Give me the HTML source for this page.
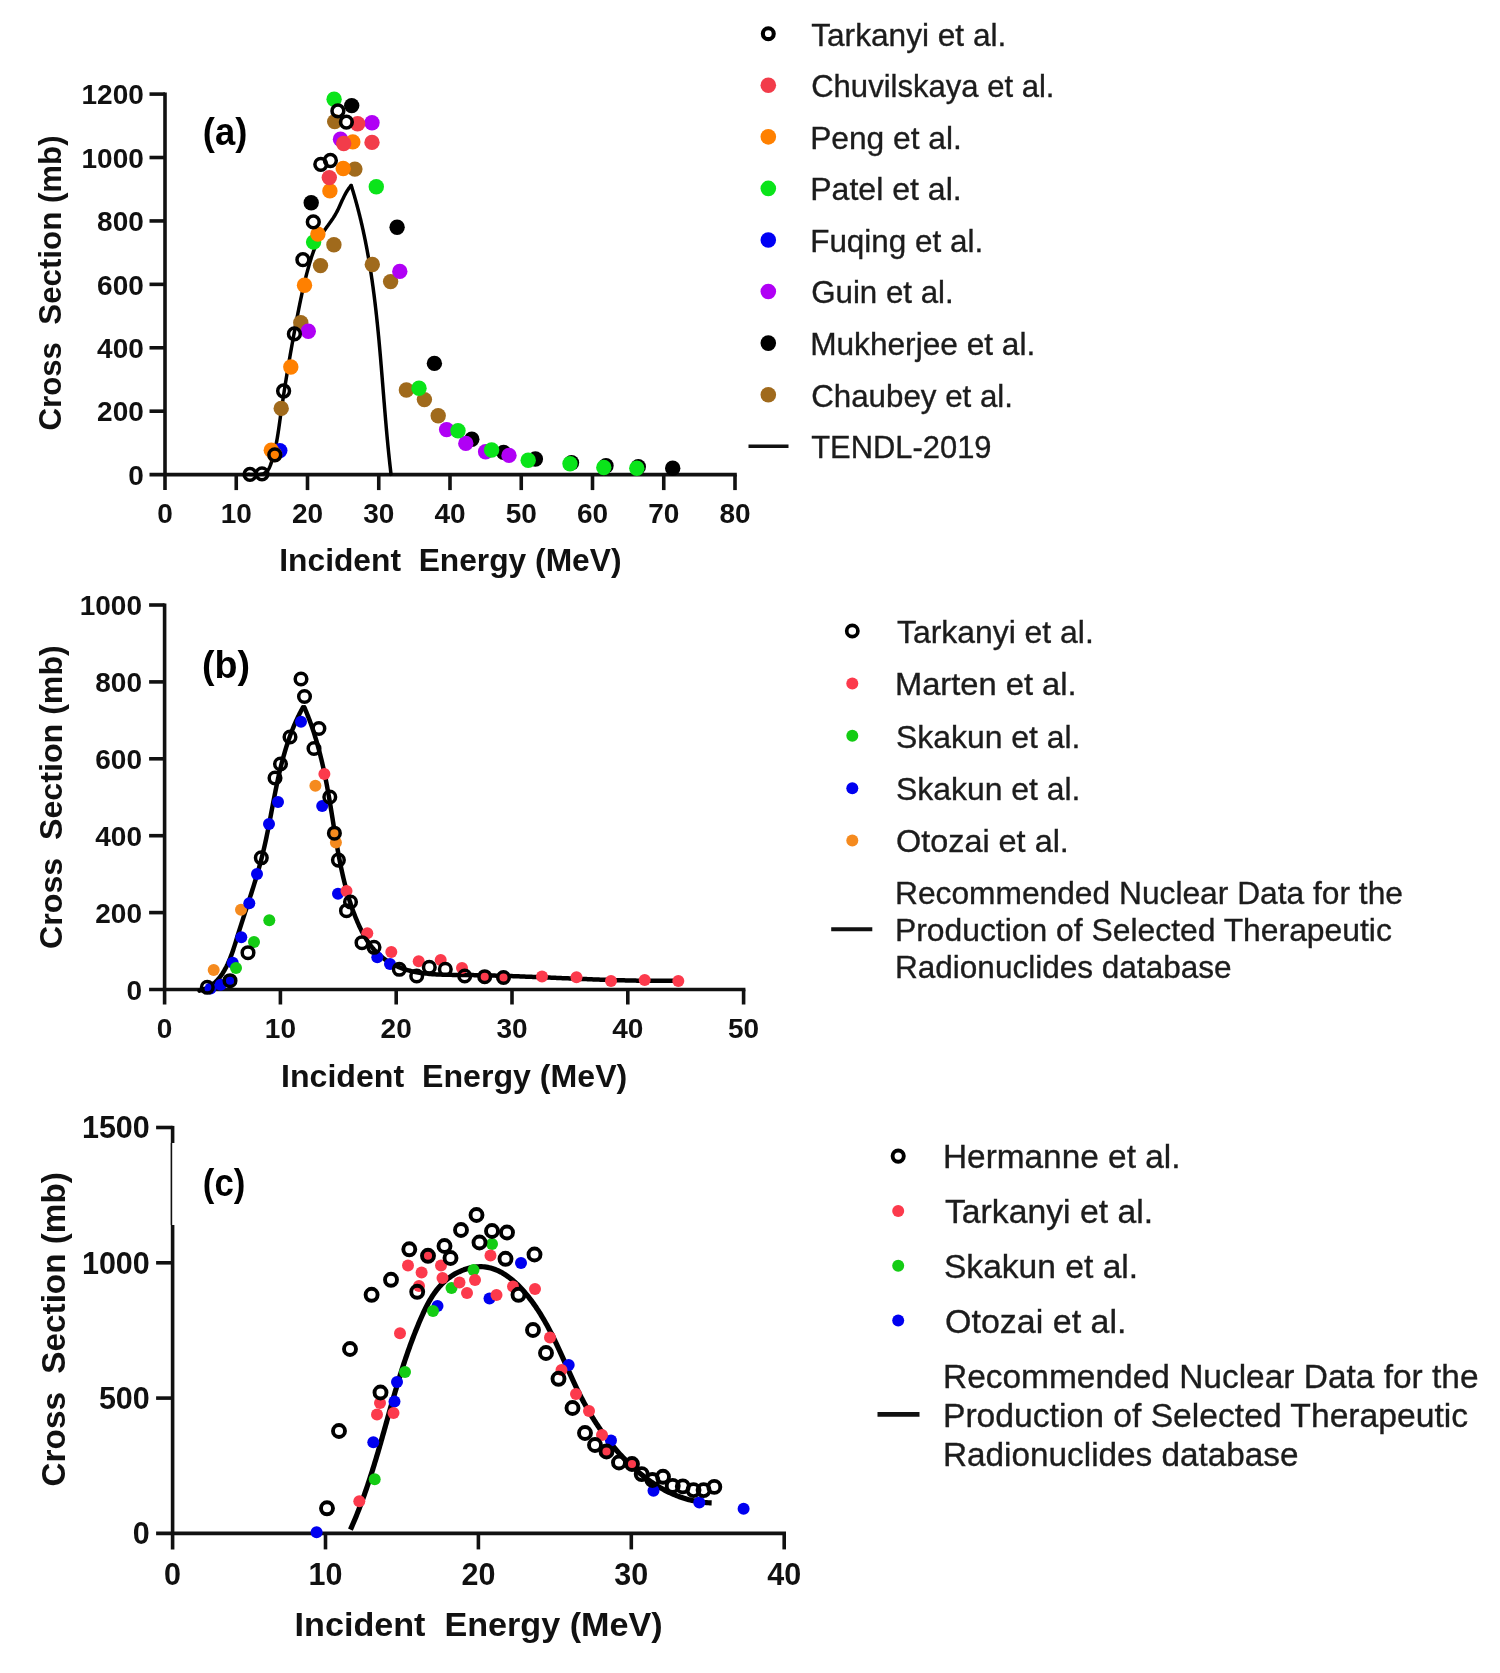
<!DOCTYPE html><html><head><meta charset="utf-8"><style>html,body{margin:0;padding:0;background:#fff;}svg{display:block;filter:blur(0.5px);}text{font-family:"Liberation Sans", sans-serif;white-space:pre;}</style></head><body>
<svg width="1500" height="1673" viewBox="0 0 1500 1673">
<rect width="1500" height="1673" fill="#fff"/>
<line x1="165" y1="92.5" x2="165" y2="490.1" stroke="#111111" stroke-width="3.6" stroke-linecap="butt"/>
<line x1="149.5" y1="474.6" x2="736.8" y2="474.6" stroke="#111111" stroke-width="3.6" stroke-linecap="butt"/>
<line x1="149.5" y1="411.18" x2="165" y2="411.18" stroke="#111111" stroke-width="3.6" stroke-linecap="butt"/>
<line x1="149.5" y1="347.77" x2="165" y2="347.77" stroke="#111111" stroke-width="3.6" stroke-linecap="butt"/>
<line x1="149.5" y1="284.35" x2="165" y2="284.35" stroke="#111111" stroke-width="3.6" stroke-linecap="butt"/>
<line x1="149.5" y1="220.94" x2="165" y2="220.94" stroke="#111111" stroke-width="3.6" stroke-linecap="butt"/>
<line x1="149.5" y1="157.52" x2="165" y2="157.52" stroke="#111111" stroke-width="3.6" stroke-linecap="butt"/>
<line x1="149.5" y1="94.1" x2="165" y2="94.1" stroke="#111111" stroke-width="3.6" stroke-linecap="butt"/>
<line x1="236.25" y1="474.6" x2="236.25" y2="490.1" stroke="#111111" stroke-width="3.6" stroke-linecap="butt"/>
<line x1="307.5" y1="474.6" x2="307.5" y2="490.1" stroke="#111111" stroke-width="3.6" stroke-linecap="butt"/>
<line x1="378.75" y1="474.6" x2="378.75" y2="490.1" stroke="#111111" stroke-width="3.6" stroke-linecap="butt"/>
<line x1="450" y1="474.6" x2="450" y2="490.1" stroke="#111111" stroke-width="3.6" stroke-linecap="butt"/>
<line x1="521.25" y1="474.6" x2="521.25" y2="490.1" stroke="#111111" stroke-width="3.6" stroke-linecap="butt"/>
<line x1="592.5" y1="474.6" x2="592.5" y2="490.1" stroke="#111111" stroke-width="3.6" stroke-linecap="butt"/>
<line x1="663.75" y1="474.6" x2="663.75" y2="490.1" stroke="#111111" stroke-width="3.6" stroke-linecap="butt"/>
<line x1="735" y1="474.6" x2="735" y2="490.1" stroke="#111111" stroke-width="3.6" stroke-linecap="butt"/>
<text x="143.8" y="484.8" font-size="28" font-weight="bold" text-anchor="end" fill="#111111">0</text>
<text x="143.8" y="421.38" font-size="28" font-weight="bold" text-anchor="end" fill="#111111">200</text>
<text x="143.8" y="357.97" font-size="28" font-weight="bold" text-anchor="end" fill="#111111">400</text>
<text x="143.8" y="294.55" font-size="28" font-weight="bold" text-anchor="end" fill="#111111">600</text>
<text x="143.8" y="231.14" font-size="28" font-weight="bold" text-anchor="end" fill="#111111">800</text>
<text x="143.8" y="167.72" font-size="28" font-weight="bold" text-anchor="end" fill="#111111">1000</text>
<text x="143.8" y="104.3" font-size="28" font-weight="bold" text-anchor="end" fill="#111111">1200</text>
<text x="165" y="523.4" font-size="28" font-weight="bold" text-anchor="middle" fill="#111111">0</text>
<text x="236.25" y="523.4" font-size="28" font-weight="bold" text-anchor="middle" fill="#111111">10</text>
<text x="307.5" y="523.4" font-size="28" font-weight="bold" text-anchor="middle" fill="#111111">20</text>
<text x="378.75" y="523.4" font-size="28" font-weight="bold" text-anchor="middle" fill="#111111">30</text>
<text x="450" y="523.4" font-size="28" font-weight="bold" text-anchor="middle" fill="#111111">40</text>
<text x="521.25" y="523.4" font-size="28" font-weight="bold" text-anchor="middle" fill="#111111">50</text>
<text x="592.5" y="523.4" font-size="28" font-weight="bold" text-anchor="middle" fill="#111111">60</text>
<text x="663.75" y="523.4" font-size="28" font-weight="bold" text-anchor="middle" fill="#111111">70</text>
<text x="735" y="523.4" font-size="28" font-weight="bold" text-anchor="middle" fill="#111111">80</text>
<text x="279.3" y="570.8" font-size="31" font-weight="bold" fill="#111111" textLength="342.2" lengthAdjust="spacingAndGlyphs" xml:space="preserve">Incident  Energy (MeV)</text>
<text transform="translate(61.2 430.6) rotate(-90)" x="0" y="0" font-size="31" font-weight="bold" fill="#111111" textLength="295.2" lengthAdjust="spacingAndGlyphs" xml:space="preserve">Cross  Section (mb)</text>
<text x="202.8" y="144.9" font-size="39" font-weight="bold" text-anchor="start" fill="#000" textLength="44.5" lengthAdjust="spacingAndGlyphs">(a)</text>
<path d="M245.97 474.57 L246.49 474.48 L247.07 474.42 L247.72 474.38 L248.42 474.37 L249.17 474.37 L249.96 474.39 L250.8 474.41 L251.66 474.44 L252.56 474.47 L253.47 474.51 L254.41 474.53 L255.35 474.55 L256.3 474.55 L257.25 474.53 L258.19 474.49 L259.12 474.43 L260.04 474.34 L260.93 474.21 L261.8 474.05 L262.63 473.84 L263.42 473.59 L264.17 473.29 L264.87 472.94 L265.52 472.54 L266.12 472.09 L266.68 471.59 L267.2 471.05 L267.68 470.47 L268.12 469.86 L268.54 469.22 L268.92 468.55 L269.28 467.85 L269.61 467.14 L269.93 466.4 L270.23 465.66 L270.52 464.9 L270.79 464.14 L271.06 463.37 L271.33 462.61 L271.59 461.84 L271.84 461.07 L272.09 460.3 L272.33 459.52 L272.56 458.75 L272.8 457.97 L273.02 457.2 L273.24 456.42 L273.46 455.64 L273.67 454.86 L273.88 454.08 L274.08 453.3 L274.28 452.51 L274.48 451.73 L274.67 450.94 L274.85 450.16 L275.04 449.37 L275.21 448.58 L275.39 447.79 L275.56 447 L275.73 446.21 L275.89 445.41 L276.05 444.62 L276.21 443.83 L276.37 443.03 L276.52 442.24 L276.67 441.44 L276.81 440.64 L276.96 439.85 L277.1 439.05 L277.24 438.25 L277.37 437.45 L277.51 436.65 L277.64 435.85 L277.77 435.05 L277.9 434.25 L278.02 433.44 L278.15 432.64 L278.27 431.84 L278.39 431.04 L278.51 430.23 L278.63 429.43 L278.75 428.62 L278.87 427.82 L278.98 427.02 L279.1 426.21 L279.21 425.41 L279.32 424.6 L279.44 423.8 L279.55 422.99 L279.66 422.19 L279.77 421.38 L279.89 420.58 L280 419.77 L280.11 418.97 L280.22 418.16 L280.34 417.36 L280.45 416.55 L280.56 415.75 L280.68 414.94 L280.79 414.14 L280.91 413.33 L281.02 412.53 L281.14 411.73 L281.25 410.92 L281.37 410.12 L281.48 409.31 L281.6 408.51 L281.72 407.71 L281.84 406.9 L281.95 406.1 L282.07 405.3 L282.19 404.5 L282.31 403.69 L282.43 402.89 L282.55 402.09 L282.67 401.29 L282.79 400.48 L282.91 399.68 L283.03 398.88 L283.15 398.08 L283.27 397.28 L283.4 396.47 L283.52 395.67 L283.64 394.87 L283.76 394.07 L283.89 393.27 L284.01 392.47 L284.14 391.67 L284.26 390.86 L284.39 390.06 L284.51 389.26 L284.64 388.46 L284.76 387.66 L284.89 386.86 L285.01 386.06 L285.14 385.26 L285.27 384.46 L285.4 383.66 L285.52 382.86 L285.65 382.06 L285.78 381.26 L285.91 380.46 L286.04 379.66 L286.17 378.86 L286.3 378.06 L286.43 377.26 L286.56 376.46 L286.69 375.66 L286.82 374.86 L286.96 374.06 L287.09 373.27 L287.22 372.47 L287.35 371.67 L287.49 370.87 L287.62 370.07 L287.75 369.27 L287.89 368.47 L288.02 367.67 L288.15 366.88 L288.29 366.08 L288.43 365.28 L288.56 364.48 L288.7 363.68 L288.83 362.89 L288.97 362.09 L289.11 361.29 L289.24 360.49 L289.38 359.69 L289.52 358.9 L289.66 358.1 L289.8 357.3 L289.93 356.5 L290.07 355.71 L290.21 354.91 L290.35 354.11 L290.49 353.31 L290.63 352.52 L290.77 351.72 L290.91 350.92 L291.06 350.13 L291.2 349.33 L291.34 348.53 L291.48 347.73 L291.62 346.94 L291.77 346.14 L291.91 345.34 L292.05 344.55 L292.2 343.75 L292.34 342.95 L292.48 342.16 L292.63 341.36 L292.77 340.57 L292.92 339.77 L293.06 338.97 L293.21 338.18 L293.36 337.38 L293.5 336.58 L293.65 335.79 L293.8 334.99 L293.94 334.2 L294.09 333.4 L294.24 332.6 L294.39 331.81 L294.54 331.01 L294.68 330.21 L294.83 329.42 L294.98 328.62 L295.13 327.83 L295.28 327.03 L295.43 326.24 L295.58 325.44 L295.73 324.64 L295.88 323.85 L296.04 323.05 L296.19 322.26 L296.34 321.46 L296.49 320.67 L296.64 319.87 L296.8 319.07 L296.95 318.28 L297.1 317.48 L297.26 316.69 L297.41 315.89 L297.56 315.1 L297.72 314.3 L297.87 313.51 L298.03 312.71 L298.19 311.92 L298.34 311.12 L298.5 310.33 L298.66 309.53 L298.81 308.74 L298.97 307.94 L299.13 307.15 L299.29 306.35 L299.45 305.56 L299.61 304.76 L299.77 303.97 L299.94 303.17 L300.1 302.38 L300.26 301.59 L300.43 300.79 L300.59 300 L300.76 299.21 L300.93 298.41 L301.09 297.62 L301.26 296.83 L301.43 296.03 L301.6 295.24 L301.78 294.45 L301.95 293.66 L302.12 292.87 L302.3 292.07 L302.47 291.28 L302.65 290.49 L302.83 289.7 L303.01 288.91 L303.19 288.12 L303.37 287.33 L303.55 286.54 L303.73 285.75 L303.92 284.96 L304.11 284.17 L304.29 283.38 L304.48 282.59 L304.67 281.81 L304.86 281.02 L305.06 280.23 L305.25 279.44 L305.45 278.66 L305.64 277.87 L305.84 277.08 L306.04 276.3 L306.25 275.51 L306.45 274.73 L306.65 273.94 L306.86 273.16 L307.07 272.37 L307.28 271.59 L307.49 270.81 L307.7 270.02 L307.92 269.24 L308.13 268.46 L308.35 267.68 L308.57 266.9 L308.8 266.12 L309.02 265.34 L309.24 264.56 L309.47 263.78 L309.7 263 L309.93 262.22 L310.17 261.44 L310.41 260.66 L310.64 259.89 L310.89 259.11 L311.13 258.34 L311.38 257.57 L311.63 256.8 L311.89 256.03 L312.15 255.26 L312.41 254.49 L312.68 253.73 L312.95 252.97 L313.22 252.2 L313.5 251.45 L313.79 250.69 L314.08 249.93 L314.37 249.18 L314.67 248.43 L314.97 247.68 L315.28 246.94 L315.6 246.2 L315.92 245.46 L316.25 244.72 L316.58 243.99 L316.92 243.25 L317.26 242.53 L317.62 241.8 L317.97 241.08 L318.34 240.36 L318.71 239.65 L319.09 238.94 L319.48 238.23 L319.87 237.53 L320.27 236.83 L320.68 236.13 L321.1 235.44 L321.53 234.76 L321.96 234.07 L322.4 233.39 L322.85 232.72 L323.3 232.04 L323.76 231.37 L324.22 230.7 L324.68 230.04 L325.15 229.37 L325.62 228.71 L326.1 228.05 L326.58 227.39 L327.05 226.73 L327.53 226.07 L328.01 225.41 L328.49 224.75 L328.97 224.09 L329.45 223.43 L329.92 222.77 L330.39 222.1 L330.86 221.44 L331.33 220.77 L331.79 220.1 L332.25 219.43 L332.71 218.76 L333.15 218.08 L333.6 217.4 L334.03 216.72 L334.46 216.03 L334.88 215.34 L335.29 214.65 L335.69 213.95 L336.09 213.24 L336.47 212.53 L336.85 211.82 L337.22 211.1 L337.58 210.38 L337.94 209.65 L338.29 208.93 L338.64 208.2 L338.98 207.46 L339.32 206.73 L339.66 206 L339.99 205.26 L340.32 204.52 L340.65 203.78 L340.98 203.05 L341.32 202.31 L341.65 201.57 L341.98 200.84 L342.32 200.1 L342.66 199.37 L343 198.64 L343.35 197.91 L343.7 197.18 L344.06 196.46 L344.43 195.74 L344.8 195.02 L345.18 194.31 L345.56 193.6 L345.96 192.9 L346.36 192.2 L346.78 191.51 L347.2 190.82 L347.64 190.14 L348.09 189.46 L348.55 188.8 L349.03 188.14 L349.52 187.48 L350.02 186.84 L350.54 186.2 L351.08 185.57" fill="none" stroke="#000" stroke-width="3.5" stroke-linejoin="round" stroke-linecap="round"/>
<path d="M351.23 185.47 L351.45 186.17 L351.67 186.88 L351.89 187.58 L352.1 188.29 L352.32 188.99 L352.54 189.7 L352.75 190.41 L352.96 191.11 L353.18 191.82 L353.39 192.52 L353.6 193.23 L353.81 193.94 L354.01 194.64 L354.22 195.35 L354.43 196.06 L354.63 196.77 L354.83 197.47 L355.04 198.18 L355.24 198.89 L355.44 199.6 L355.64 200.31 L355.83 201.01 L356.03 201.72 L356.23 202.43 L356.42 203.14 L356.62 203.85 L356.81 204.56 L357 205.27 L357.19 205.98 L357.38 206.69 L357.57 207.4 L357.76 208.11 L357.94 208.82 L358.13 209.53 L358.31 210.24 L358.49 210.95 L358.68 211.66 L358.86 212.37 L359.04 213.08 L359.22 213.8 L359.4 214.51 L359.57 215.22 L359.75 215.93 L359.93 216.64 L360.1 217.36 L360.27 218.07 L360.45 218.78 L360.62 219.49 L360.79 220.21 L360.96 220.92 L361.13 221.63 L361.29 222.35 L361.46 223.06 L361.63 223.77 L361.79 224.49 L361.95 225.2 L362.12 225.92 L362.28 226.63 L362.44 227.34 L362.6 228.06 L362.76 228.77 L362.92 229.49 L363.08 230.2 L363.23 230.92 L363.39 231.63 L363.54 232.35 L363.7 233.07 L363.85 233.78 L364 234.5 L364.15 235.21 L364.3 235.93 L364.45 236.65 L364.6 237.36 L364.75 238.08 L364.9 238.8 L365.04 239.51 L365.19 240.23 L365.33 240.95 L365.48 241.66 L365.62 242.38 L365.76 243.1 L365.9 243.82 L366.04 244.53 L366.18 245.25 L366.32 245.97 L366.46 246.69 L366.59 247.41 L366.73 248.13 L366.87 248.84 L367 249.56 L367.13 250.28 L367.27 251 L367.4 251.72 L367.53 252.44 L367.66 253.16 L367.79 253.88 L367.92 254.6 L368.05 255.32 L368.18 256.04 L368.3 256.76 L368.43 257.48 L368.56 258.2 L368.68 258.92 L368.8 259.64 L368.93 260.36 L369.05 261.08 L369.17 261.8 L369.29 262.52 L369.41 263.24 L369.53 263.96 L369.65 264.68 L369.77 265.41 L369.89 266.13 L370 266.85 L370.12 267.57 L370.23 268.29 L370.35 269.01 L370.46 269.74 L370.58 270.46 L370.69 271.18 L370.8 271.9 L370.91 272.63 L371.02 273.35 L371.13 274.07 L371.24 274.79 L371.35 275.52 L371.46 276.24 L371.57 276.96 L371.67 277.69 L371.78 278.41 L371.89 279.13 L371.99 279.86 L372.1 280.58 L372.2 281.3 L372.3 282.03 L372.41 282.75 L372.51 283.47 L372.61 284.2 L372.71 284.92 L372.81 285.65 L372.91 286.37 L373.01 287.1 L373.11 287.82 L373.2 288.54 L373.3 289.27 L373.4 289.99 L373.49 290.72 L373.59 291.44 L373.69 292.17 L373.78 292.89 L373.87 293.62 L373.97 294.34 L374.06 295.07 L374.15 295.8 L374.24 296.52 L374.34 297.25 L374.43 297.97 L374.52 298.7 L374.61 299.42 L374.7 300.15 L374.79 300.88 L374.87 301.6 L374.96 302.33 L375.05 303.05 L375.14 303.78 L375.22 304.51 L375.31 305.23 L375.39 305.96 L375.48 306.69 L375.56 307.41 L375.65 308.14 L375.73 308.87 L375.81 309.59 L375.9 310.32 L375.98 311.05 L376.06 311.78 L376.14 312.5 L376.22 313.23 L376.3 313.96 L376.38 314.68 L376.46 315.41 L376.54 316.14 L376.62 316.87 L376.7 317.59 L376.78 318.32 L376.85 319.05 L376.93 319.78 L377.01 320.51 L377.08 321.23 L377.16 321.96 L377.24 322.69 L377.31 323.42 L377.39 324.15 L377.46 324.87 L377.54 325.6 L377.61 326.33 L377.68 327.06 L377.76 327.79 L377.83 328.52 L377.9 329.25 L377.97 329.97 L378.05 330.7 L378.12 331.43 L378.19 332.16 L378.26 332.89 L378.33 333.62 L378.4 334.35 L378.47 335.08 L378.54 335.81 L378.61 336.53 L378.68 337.26 L378.75 337.99 L378.81 338.72 L378.88 339.45 L378.95 340.18 L379.02 340.91 L379.09 341.64 L379.15 342.37 L379.22 343.1 L379.29 343.83 L379.35 344.56 L379.42 345.29 L379.48 346.02 L379.55 346.75 L379.61 347.48 L379.68 348.21 L379.74 348.94 L379.81 349.67 L379.87 350.39 L379.94 351.12 L380 351.85 L380.07 352.58 L380.13 353.31 L380.19 354.04 L380.26 354.77 L380.32 355.5 L380.38 356.23 L380.44 356.96 L380.51 357.69 L380.57 358.42 L380.63 359.16 L380.69 359.89 L380.75 360.62 L380.82 361.35 L380.88 362.08 L380.94 362.81 L381 363.54 L381.06 364.27 L381.12 365 L381.18 365.73 L381.24 366.46 L381.3 367.19 L381.36 367.92 L381.42 368.65 L381.48 369.38 L381.54 370.11 L381.6 370.84 L381.66 371.57 L381.72 372.3 L381.78 373.03 L381.84 373.76 L381.9 374.49 L381.96 375.22 L382.02 375.95 L382.08 376.68 L382.14 377.42 L382.2 378.15 L382.26 378.88 L382.32 379.61 L382.37 380.34 L382.43 381.07 L382.49 381.8 L382.55 382.53 L382.61 383.26 L382.67 383.99 L382.73 384.72 L382.79 385.45 L382.84 386.18 L382.9 386.91 L382.96 387.64 L383.02 388.37 L383.08 389.1 L383.14 389.84 L383.2 390.57 L383.25 391.3 L383.31 392.03 L383.37 392.76 L383.43 393.49 L383.49 394.22 L383.55 394.95 L383.61 395.68 L383.67 396.41 L383.72 397.14 L383.78 397.87 L383.84 398.6 L383.9 399.33 L383.96 400.06 L384.02 400.79 L384.08 401.52 L384.14 402.25 L384.2 402.98 L384.26 403.71 L384.32 404.45 L384.38 405.18 L384.44 405.91 L384.5 406.64 L384.56 407.37 L384.62 408.1 L384.68 408.83 L384.74 409.56 L384.8 410.29 L384.86 411.02 L384.92 411.75 L384.98 412.48 L385.04 413.21 L385.1 413.94 L385.16 414.67 L385.22 415.4 L385.28 416.13 L385.34 416.86 L385.41 417.59 L385.47 418.32 L385.53 419.05 L385.59 419.78 L385.65 420.51 L385.72 421.24 L385.78 421.97 L385.84 422.7 L385.91 423.43 L385.97 424.16 L386.03 424.89 L386.1 425.62 L386.16 426.34 L386.23 427.07 L386.29 427.8 L386.35 428.53 L386.42 429.26 L386.48 429.99 L386.55 430.72 L386.61 431.45 L386.68 432.18 L386.75 432.91 L386.81 433.64 L386.88 434.37 L386.95 435.1 L387.01 435.82 L387.08 436.55 L387.15 437.28 L387.22 438.01 L387.28 438.74 L387.35 439.47 L387.42 440.2 L387.49 440.93 L387.56 441.65 L387.63 442.38 L387.7 443.11 L387.77 443.84 L387.84 444.57 L387.91 445.3 L387.98 446.03 L388.05 446.75 L388.12 447.48 L388.2 448.21 L388.27 448.94 L388.34 449.67 L388.41 450.39 L388.49 451.12 L388.56 451.85 L388.64 452.58 L388.71 453.3 L388.78 454.03 L388.86 454.76 L388.94 455.49 L389.01 456.21 L389.09 456.94 L389.16 457.67 L389.24 458.4 L389.32 459.12 L389.4 459.85 L389.48 460.58 L389.55 461.3 L389.63 462.03 L389.71 462.76 L389.79 463.48 L389.87 464.21 L389.95 464.94 L390.04 465.66 L390.12 466.39 L390.2 467.12 L390.28 467.84 L390.37 468.57 L390.45 469.3 L390.53 470.02 L390.62 470.75 L390.7 471.47 L390.79 472.2 L390.87 472.92 L390.96 473.65 L391.05 474.38" fill="none" stroke="#000" stroke-width="3.5" stroke-linejoin="round" stroke-linecap="round"/>
<circle cx="334.7" cy="121.6" r="7.7" fill="#a06a1c"/>
<circle cx="354.9" cy="169.1" r="7.7" fill="#a06a1c"/>
<circle cx="333.9" cy="244.8" r="7.7" fill="#a06a1c"/>
<circle cx="320.5" cy="265.6" r="7.7" fill="#a06a1c"/>
<circle cx="372.3" cy="264.5" r="7.7" fill="#a06a1c"/>
<circle cx="390.6" cy="281.6" r="7.7" fill="#a06a1c"/>
<circle cx="300.8" cy="322.7" r="7.7" fill="#a06a1c"/>
<circle cx="281.2" cy="408.4" r="7.7" fill="#a06a1c"/>
<circle cx="406.4" cy="390" r="7.7" fill="#a06a1c"/>
<circle cx="424.4" cy="399.6" r="7.7" fill="#a06a1c"/>
<circle cx="438.2" cy="415.8" r="7.7" fill="#a06a1c"/>
<circle cx="351.7" cy="105.6" r="7.7" fill="#000000"/>
<circle cx="311.2" cy="202.7" r="7.7" fill="#000000"/>
<circle cx="397.1" cy="227.2" r="7.7" fill="#000000"/>
<circle cx="434.4" cy="363.4" r="7.7" fill="#000000"/>
<circle cx="471.8" cy="439.2" r="7.7" fill="#000000"/>
<circle cx="503.6" cy="452.4" r="7.7" fill="#000000"/>
<circle cx="535.4" cy="459" r="7.7" fill="#000000"/>
<circle cx="571.5" cy="462.8" r="7.7" fill="#000000"/>
<circle cx="606" cy="465.7" r="7.7" fill="#000000"/>
<circle cx="638.3" cy="466.7" r="7.7" fill="#000000"/>
<circle cx="672.7" cy="468.2" r="7.7" fill="#000000"/>
<circle cx="372" cy="122.7" r="7.7" fill="#b000f5"/>
<circle cx="340.5" cy="139.2" r="7.7" fill="#b000f5"/>
<circle cx="308.3" cy="331.2" r="7.7" fill="#b000f5"/>
<circle cx="399.8" cy="271.4" r="7.7" fill="#b000f5"/>
<circle cx="446.6" cy="429.6" r="7.7" fill="#b000f5"/>
<circle cx="465.8" cy="443.4" r="7.7" fill="#b000f5"/>
<circle cx="485.6" cy="451.8" r="7.7" fill="#b000f5"/>
<circle cx="509" cy="455.4" r="7.7" fill="#b000f5"/>
<circle cx="279.8" cy="450.6" r="7.7" fill="#0000f5"/>
<circle cx="334.1" cy="99.2" r="7.7" fill="#0ae41a"/>
<circle cx="376.3" cy="186.7" r="7.7" fill="#0ae41a"/>
<circle cx="313.6" cy="242.1" r="7.7" fill="#0ae41a"/>
<circle cx="419" cy="388.2" r="7.7" fill="#0ae41a"/>
<circle cx="458" cy="430.8" r="7.7" fill="#0ae41a"/>
<circle cx="491.6" cy="450" r="7.7" fill="#0ae41a"/>
<circle cx="528.2" cy="460.2" r="7.7" fill="#0ae41a"/>
<circle cx="570" cy="463.8" r="7.7" fill="#0ae41a"/>
<circle cx="603.8" cy="467.5" r="7.7" fill="#0ae41a"/>
<circle cx="636.8" cy="468.2" r="7.7" fill="#0ae41a"/>
<circle cx="352.8" cy="141.9" r="7.7" fill="#ff8000"/>
<circle cx="343.2" cy="168.5" r="7.7" fill="#ff8000"/>
<circle cx="329.9" cy="190.9" r="7.7" fill="#ff8000"/>
<circle cx="317.9" cy="234.1" r="7.7" fill="#ff8000"/>
<circle cx="304.5" cy="285.3" r="7.7" fill="#ff8000"/>
<circle cx="290.8" cy="367" r="7.7" fill="#ff8000"/>
<circle cx="271.3" cy="450.3" r="7.7" fill="#ff8000"/>
<circle cx="274.6" cy="454.6" r="7.7" fill="#ff8000"/>
<circle cx="357.6" cy="123.7" r="7.7" fill="#f23c4a"/>
<circle cx="343.7" cy="143.5" r="7.7" fill="#f23c4a"/>
<circle cx="372" cy="142.4" r="7.7" fill="#f23c4a"/>
<circle cx="329.3" cy="177.6" r="7.7" fill="#f23c4a"/>
<circle cx="337.9" cy="110.9" r="5.9" fill="none" stroke="#000" stroke-width="3.5"/>
<circle cx="346.4" cy="122.1" r="5.9" fill="none" stroke="#000" stroke-width="3.5"/>
<circle cx="320.8" cy="164.3" r="5.9" fill="none" stroke="#000" stroke-width="3.5"/>
<circle cx="330.4" cy="160.5" r="5.9" fill="none" stroke="#000" stroke-width="3.5"/>
<circle cx="313.3" cy="221.9" r="5.9" fill="none" stroke="#000" stroke-width="3.5"/>
<circle cx="302.9" cy="259.7" r="5.9" fill="none" stroke="#000" stroke-width="3.5"/>
<circle cx="294.4" cy="333.9" r="5.9" fill="none" stroke="#000" stroke-width="3.5"/>
<circle cx="283.6" cy="391" r="5.9" fill="none" stroke="#000" stroke-width="3.5"/>
<circle cx="274.8" cy="454.8" r="5.9" fill="none" stroke="#000" stroke-width="3.5"/>
<circle cx="250" cy="474.4" r="5.9" fill="none" stroke="#000" stroke-width="3.5"/>
<circle cx="262" cy="473.8" r="5.9" fill="none" stroke="#000" stroke-width="3.5"/>
<circle cx="768.3" cy="33.7" r="5.45" fill="none" stroke="#000" stroke-width="4.1"/>
<text x="811.19" y="45.6" font-size="31.2" fill="#1c1c1c" stroke="#1c1c1c" stroke-width="0.35" textLength="195.17" lengthAdjust="spacingAndGlyphs" xml:space="preserve">Tarkanyi et al.</text>
<circle cx="768.3" cy="85.27" r="7.8" fill="#f23c4a"/>
<text x="811.2" y="97.17" font-size="31.2" fill="#1c1c1c" stroke="#1c1c1c" stroke-width="0.35" textLength="243.31" lengthAdjust="spacingAndGlyphs" xml:space="preserve">Chuvilskaya et al.</text>
<circle cx="768.3" cy="136.84" r="7.8" fill="#ff8000"/>
<text x="810.17" y="148.74" font-size="31.2" fill="#1c1c1c" stroke="#1c1c1c" stroke-width="0.35" textLength="151.7" lengthAdjust="spacingAndGlyphs" xml:space="preserve">Peng et al.</text>
<circle cx="768.3" cy="188.41" r="7.8" fill="#0ae41a"/>
<text x="810.15" y="200.31" font-size="31.2" fill="#1c1c1c" stroke="#1c1c1c" stroke-width="0.35" textLength="151.6" lengthAdjust="spacingAndGlyphs" xml:space="preserve">Patel et al.</text>
<circle cx="768.3" cy="239.98" r="7.8" fill="#0000f5"/>
<text x="810.19" y="251.88" font-size="31.2" fill="#1c1c1c" stroke="#1c1c1c" stroke-width="0.35" textLength="172.98" lengthAdjust="spacingAndGlyphs" xml:space="preserve">Fuqing et al.</text>
<circle cx="768.3" cy="291.55" r="7.8" fill="#b000f5"/>
<text x="811.2" y="303.45" font-size="31.2" fill="#1c1c1c" stroke="#1c1c1c" stroke-width="0.35" textLength="142.57" lengthAdjust="spacingAndGlyphs" xml:space="preserve">Guin et al.</text>
<circle cx="768.3" cy="343.12" r="7.8" fill="#000000"/>
<text x="810.17" y="355.02" font-size="31.2" fill="#1c1c1c" stroke="#1c1c1c" stroke-width="0.35" textLength="225.08" lengthAdjust="spacingAndGlyphs" xml:space="preserve">Mukherjee et al.</text>
<circle cx="768.3" cy="394.69" r="7.8" fill="#a06a1c"/>
<text x="811.2" y="406.59" font-size="31.2" fill="#1c1c1c" stroke="#1c1c1c" stroke-width="0.35" textLength="201.84" lengthAdjust="spacingAndGlyphs" xml:space="preserve">Chaubey et al.</text>
<line x1="748.5" y1="446.3" x2="788.5" y2="446.3" stroke="#111" stroke-width="3.4" stroke-linecap="butt"/>
<text x="811.21" y="458.2" font-size="31.2" fill="#1c1c1c" stroke="#1c1c1c" stroke-width="0.35" textLength="180.3" lengthAdjust="spacingAndGlyphs" xml:space="preserve">TENDL-2019</text>
<line x1="164.6" y1="603.4" x2="164.6" y2="1004.5" stroke="#111111" stroke-width="3.6" stroke-linecap="butt"/>
<line x1="149.1" y1="989.5" x2="745.4" y2="989.5" stroke="#111111" stroke-width="3.6" stroke-linecap="butt"/>
<line x1="149.1" y1="912.6" x2="164.6" y2="912.6" stroke="#111111" stroke-width="3.6" stroke-linecap="butt"/>
<line x1="149.1" y1="835.7" x2="164.6" y2="835.7" stroke="#111111" stroke-width="3.6" stroke-linecap="butt"/>
<line x1="149.1" y1="758.8" x2="164.6" y2="758.8" stroke="#111111" stroke-width="3.6" stroke-linecap="butt"/>
<line x1="149.1" y1="681.9" x2="164.6" y2="681.9" stroke="#111111" stroke-width="3.6" stroke-linecap="butt"/>
<line x1="149.1" y1="605" x2="164.6" y2="605" stroke="#111111" stroke-width="3.6" stroke-linecap="butt"/>
<line x1="280.4" y1="989.5" x2="280.4" y2="1004.5" stroke="#111111" stroke-width="3.6" stroke-linecap="butt"/>
<line x1="396.2" y1="989.5" x2="396.2" y2="1004.5" stroke="#111111" stroke-width="3.6" stroke-linecap="butt"/>
<line x1="512" y1="989.5" x2="512" y2="1004.5" stroke="#111111" stroke-width="3.6" stroke-linecap="butt"/>
<line x1="627.8" y1="989.5" x2="627.8" y2="1004.5" stroke="#111111" stroke-width="3.6" stroke-linecap="butt"/>
<line x1="743.6" y1="989.5" x2="743.6" y2="1004.5" stroke="#111111" stroke-width="3.6" stroke-linecap="butt"/>
<text x="142" y="999.7" font-size="28" font-weight="bold" text-anchor="end" fill="#111111">0</text>
<text x="142" y="922.8" font-size="28" font-weight="bold" text-anchor="end" fill="#111111">200</text>
<text x="142" y="845.9" font-size="28" font-weight="bold" text-anchor="end" fill="#111111">400</text>
<text x="142" y="769" font-size="28" font-weight="bold" text-anchor="end" fill="#111111">600</text>
<text x="142" y="692.1" font-size="28" font-weight="bold" text-anchor="end" fill="#111111">800</text>
<text x="142" y="615.2" font-size="28" font-weight="bold" text-anchor="end" fill="#111111">1000</text>
<text x="164.6" y="1038.4" font-size="28" font-weight="bold" text-anchor="middle" fill="#111111">0</text>
<text x="280.4" y="1038.4" font-size="28" font-weight="bold" text-anchor="middle" fill="#111111">10</text>
<text x="396.2" y="1038.4" font-size="28" font-weight="bold" text-anchor="middle" fill="#111111">20</text>
<text x="512" y="1038.4" font-size="28" font-weight="bold" text-anchor="middle" fill="#111111">30</text>
<text x="627.8" y="1038.4" font-size="28" font-weight="bold" text-anchor="middle" fill="#111111">40</text>
<text x="743.6" y="1038.4" font-size="28" font-weight="bold" text-anchor="middle" fill="#111111">50</text>
<text x="281" y="1087.3" font-size="31.5" font-weight="bold" fill="#111111" textLength="346.3" lengthAdjust="spacingAndGlyphs" xml:space="preserve">Incident  Energy (MeV)</text>
<text transform="translate(61.8 949) rotate(-90)" x="0" y="0" font-size="31.5" font-weight="bold" fill="#111111" textLength="303.8" lengthAdjust="spacingAndGlyphs" xml:space="preserve">Cross  Section (mb)</text>
<text x="202" y="678" font-size="39" font-weight="bold" text-anchor="start" fill="#000" textLength="48" lengthAdjust="spacingAndGlyphs">(b)</text>
<path d="M199.5 990.66 L200.29 990.45 L201.08 990.23 L201.85 989.99 L202.61 989.74 L203.36 989.48 L204.09 989.2 L204.82 988.91 L205.52 988.61 L206.22 988.29 L206.91 987.97 L207.58 987.62 L208.24 987.27 L208.89 986.9 L209.53 986.53 L210.16 986.14 L210.77 985.74 L211.38 985.32 L211.97 984.9 L212.56 984.47 L213.13 984.02 L213.69 983.56 L214.25 983.1 L214.79 982.62 L215.33 982.14 L215.85 981.64 L216.36 981.13 L216.87 980.62 L217.37 980.1 L217.86 979.56 L218.34 979.02 L218.81 978.47 L219.27 977.92 L219.73 977.35 L220.17 976.78 L220.61 976.19 L221.04 975.61 L221.47 975.01 L221.89 974.41 L222.29 973.8 L222.7 973.18 L223.09 972.56 L223.48 971.93 L223.87 971.29 L224.24 970.65 L224.62 970 L224.98 969.35 L225.34 968.7 L225.69 968.03 L226.04 967.37 L226.38 966.69 L226.72 966.02 L227.05 965.33 L227.38 964.65 L227.71 963.96 L228.02 963.26 L228.34 962.56 L228.65 961.86 L228.95 961.15 L229.25 960.44 L229.55 959.73 L229.84 959.01 L230.13 958.29 L230.41 957.56 L230.69 956.84 L230.97 956.11 L231.25 955.37 L231.52 954.64 L231.79 953.9 L232.05 953.16 L232.31 952.41 L232.57 951.67 L232.83 950.92 L233.09 950.17 L233.34 949.42 L233.59 948.66 L233.84 947.91 L234.09 947.15 L234.33 946.39 L234.58 945.64 L234.82 944.87 L235.06 944.11 L235.3 943.35 L235.54 942.59 L235.78 941.83 L236.01 941.06 L236.25 940.3 L236.48 939.53 L236.72 938.77 L236.95 938.01 L237.19 937.24 L237.42 936.48 L237.66 935.72 L237.89 934.95 L238.13 934.19 L238.37 933.43 L238.6 932.67 L238.84 931.91 L239.08 931.15 L239.31 930.4 L239.55 929.64 L239.79 928.88 L240.03 928.13 L240.27 927.37 L240.51 926.62 L240.75 925.87 L240.99 925.11 L241.23 924.36 L241.47 923.61 L241.71 922.86 L241.95 922.11 L242.19 921.36 L242.44 920.61 L242.68 919.86 L242.92 919.12 L243.16 918.37 L243.4 917.62 L243.65 916.88 L243.89 916.13 L244.13 915.39 L244.37 914.64 L244.62 913.9 L244.86 913.15 L245.1 912.41 L245.34 911.67 L245.59 910.93 L245.83 910.19 L246.07 909.45 L246.31 908.7 L246.56 907.96 L246.8 907.22 L247.04 906.48 L247.28 905.75 L247.52 905.01 L247.76 904.27 L248 903.53 L248.24 902.79 L248.49 902.05 L248.73 901.32 L248.96 900.58 L249.2 899.84 L249.44 899.1 L249.68 898.37 L249.92 897.63 L250.16 896.9 L250.4 896.16 L250.63 895.42 L250.87 894.69 L251.11 893.95 L251.34 893.22 L251.58 892.48 L251.81 891.74 L252.05 891.01 L252.28 890.27 L252.51 889.54 L252.75 888.8 L252.98 888.07 L253.21 887.33 L253.44 886.6 L253.67 885.86 L253.9 885.13 L254.13 884.39 L254.36 883.66 L254.58 882.92 L254.81 882.19 L255.03 881.45 L255.26 880.71 L255.48 879.98 L255.71 879.24 L255.93 878.51 L256.15 877.77 L256.37 877.03 L256.59 876.3 L256.81 875.56 L257.03 874.82 L257.24 874.08 L257.46 873.35 L257.67 872.61 L257.89 871.87 L258.1 871.13 L258.31 870.39 L258.52 869.65 L258.73 868.91 L258.94 868.17 L259.15 867.43 L259.35 866.69 L259.56 865.95 L259.76 865.21 L259.97 864.47 L260.17 863.73 L260.37 862.98 L260.57 862.24 L260.77 861.5 L260.96 860.75 L261.16 860.01 L261.35 859.26 L261.54 858.52 L261.73 857.77 L261.92 857.02 L262.11 856.28 L262.3 855.53 L262.49 854.78 L262.67 854.03 L262.85 853.28 L263.03 852.53 L263.21 851.78 L263.39 851.03 L263.57 850.28 L263.75 849.53 L263.92 848.77 L264.1 848.02 L264.27 847.27 L264.44 846.51 L264.61 845.76 L264.78 845 L264.95 844.25 L265.12 843.49 L265.28 842.73 L265.45 841.98 L265.61 841.22 L265.78 840.46 L265.94 839.7 L266.1 838.95 L266.26 838.19 L266.42 837.43 L266.58 836.67 L266.74 835.91 L266.9 835.15 L267.06 834.39 L267.21 833.63 L267.37 832.87 L267.52 832.1 L267.68 831.34 L267.83 830.58 L267.98 829.82 L268.14 829.06 L268.29 828.29 L268.44 827.53 L268.59 826.77 L268.74 826 L268.89 825.24 L269.04 824.47 L269.19 823.71 L269.34 822.95 L269.48 822.18 L269.63 821.42 L269.78 820.65 L269.93 819.89 L270.07 819.12 L270.22 818.36 L270.37 817.59 L270.51 816.83 L270.66 816.06 L270.8 815.29 L270.95 814.53 L271.1 813.76 L271.24 813 L271.39 812.23 L271.53 811.46 L271.68 810.7 L271.82 809.93 L271.97 809.17 L272.11 808.4 L272.26 807.63 L272.4 806.87 L272.55 806.1 L272.7 805.34 L272.84 804.57 L272.99 803.8 L273.13 803.04 L273.28 802.27 L273.43 801.51 L273.58 800.74 L273.72 799.97 L273.87 799.21 L274.02 798.44 L274.17 797.68 L274.32 796.91 L274.47 796.15 L274.62 795.38 L274.77 794.62 L274.92 793.85 L275.07 793.09 L275.22 792.33 L275.37 791.56 L275.53 790.8 L275.68 790.03 L275.84 789.27 L275.99 788.51 L276.15 787.74 L276.3 786.98 L276.46 786.22 L276.62 785.46 L276.78 784.7 L276.94 783.93 L277.1 783.17 L277.26 782.41 L277.42 781.65 L277.58 780.89 L277.75 780.13 L277.91 779.37 L278.08 778.61 L278.25 777.85 L278.41 777.09 L278.58 776.34 L278.75 775.58 L278.93 774.82 L279.1 774.06 L279.27 773.31 L279.45 772.55 L279.62 771.8 L279.8 771.04 L279.98 770.29 L280.16 769.53 L280.34 768.78 L280.52 768.02 L280.7 767.27 L280.89 766.52 L281.08 765.77 L281.26 765.01 L281.45 764.26 L281.64 763.51 L281.83 762.76 L282.03 762.01 L282.22 761.27 L282.42 760.52 L282.62 759.77 L282.82 759.02 L283.02 758.28 L283.22 757.53 L283.43 756.79 L283.63 756.04 L283.84 755.3 L284.05 754.55 L284.26 753.81 L284.48 753.07 L284.69 752.33 L284.91 751.59 L285.13 750.85 L285.35 750.11 L285.57 749.37 L285.8 748.63 L286.02 747.9 L286.25 747.16 L286.48 746.42 L286.72 745.69 L286.95 744.96 L287.19 744.22 L287.43 743.49 L287.67 742.76 L287.91 742.03 L288.16 741.3 L288.4 740.57 L288.65 739.84 L288.9 739.11 L289.16 738.39 L289.42 737.66 L289.67 736.94 L289.93 736.21 L290.2 735.49 L290.46 734.77 L290.73 734.05 L291 733.32 L291.28 732.61 L291.55 731.89 L291.83 731.17 L292.11 730.45 L292.39 729.74 L292.68 729.02 L292.97 728.31 L293.26 727.6 L293.55 726.88 L293.85 726.17 L294.15 725.46 L294.45 724.76 L294.75 724.05 L295.06 723.34 L295.37 722.64 L295.68 721.93 L296 721.23 L296.32 720.53 L296.64 719.82 L296.96 719.12 L297.29 718.42 L297.62 717.73 L297.95 717.03 L298.29 716.33 L298.63 715.64 L298.97 714.95 L299.32 714.25 L299.66 713.56 L300.02 712.87 L300.37 712.19 L300.73 711.5 L301.09 710.81 L301.45 710.13 L301.82 709.44 L302.19 708.76 L302.57 708.08 L302.94 707.4" fill="none" stroke="#000" stroke-width="4.5" stroke-linejoin="round" stroke-linecap="round"/>
<path d="M304.38 707.41 L304.95 708.73 L305.51 710.05 L306.06 711.37 L306.6 712.69 L307.14 714.01 L307.66 715.33 L308.18 716.66 L308.7 717.98 L309.2 719.31 L309.7 720.64 L310.19 721.98 L310.68 723.31 L311.16 724.64 L311.63 725.98 L312.09 727.32 L312.55 728.66 L313 730 L313.45 731.34 L313.88 732.68 L314.32 734.03 L314.74 735.37 L315.16 736.72 L315.58 738.07 L315.98 739.42 L316.39 740.77 L316.78 742.13 L317.17 743.48 L317.56 744.84 L317.94 746.2 L318.31 747.55 L318.68 748.91 L319.05 750.27 L319.41 751.64 L319.76 753 L320.11 754.37 L320.45 755.73 L320.79 757.1 L321.13 758.47 L321.46 759.84 L321.79 761.21 L322.11 762.58 L322.43 763.95 L322.74 765.32 L323.05 766.7 L323.35 768.08 L323.66 769.45 L323.95 770.83 L324.25 772.21 L324.54 773.59 L324.82 774.97 L325.11 776.35 L325.39 777.74 L325.67 779.12 L325.94 780.51 L326.21 781.89 L326.48 783.28 L326.74 784.67 L327.01 786.05 L327.26 787.44 L327.52 788.83 L327.78 790.23 L328.03 791.62 L328.28 793.01 L328.52 794.4 L328.77 795.8 L329.01 797.19 L329.25 798.59 L329.49 799.99 L329.73 801.38 L329.97 802.78 L330.2 804.18 L330.43 805.58 L330.66 806.98 L330.89 808.38 L331.12 809.78 L331.35 811.18 L331.58 812.59 L331.8 813.99 L332.03 815.39 L332.25 816.8 L332.48 818.2 L332.7 819.61 L332.92 821.01 L333.15 822.42 L333.37 823.82 L333.59 825.23 L333.82 826.63 L334.04 828.04 L334.27 829.44 L334.49 830.85 L334.72 832.26 L334.95 833.66 L335.18 835.07 L335.41 836.47 L335.64 837.88 L335.87 839.29 L336.11 840.69 L336.34 842.1 L336.58 843.5 L336.82 844.9 L337.06 846.31 L337.31 847.71 L337.55 849.12 L337.8 850.52 L338.05 851.92 L338.31 853.32 L338.56 854.72 L338.82 856.12 L339.09 857.52 L339.36 858.92 L339.63 860.32 L339.9 861.72 L340.18 863.11 L340.46 864.51 L340.74 865.9 L341.03 867.29 L341.32 868.69 L341.62 870.08 L341.92 871.47 L342.23 872.86 L342.54 874.25 L342.86 875.63 L343.18 877.02 L343.51 878.4 L343.84 879.79 L344.17 881.17 L344.52 882.55 L344.86 883.93 L345.22 885.3 L345.58 886.68 L345.94 888.05 L346.31 889.43 L346.69 890.8 L347.07 892.17 L347.46 893.53 L347.86 894.9 L348.26 896.26 L348.67 897.63 L349.09 898.99 L349.52 900.35 L349.95 901.7 L350.39 903.06 L350.83 904.41 L351.29 905.76 L351.75 907.11 L352.22 908.45 L352.7 909.8 L353.18 911.14 L353.68 912.48 L354.18 913.82 L354.69 915.15 L355.21 916.49 L355.74 917.82 L356.28 919.14 L356.83 920.47 L357.38 921.79 L357.95 923.11 L358.53 924.42 L359.11 925.73 L359.71 927.03 L360.32 928.32 L360.95 929.61 L361.59 930.89 L362.24 932.16 L362.9 933.41 L363.58 934.66 L364.28 935.9 L364.99 937.12 L365.72 938.33 L366.46 939.52 L367.22 940.71 L368 941.87 L368.8 943.02 L369.62 944.15 L370.45 945.26 L371.31 946.36 L372.18 947.44 L373.08 948.49 L373.99 949.53 L374.93 950.54 L375.88 951.54 L376.85 952.52 L377.84 953.47 L378.85 954.4 L379.87 955.32 L380.91 956.21 L381.97 957.08 L383.05 957.93 L384.13 958.75 L385.24 959.56 L386.36 960.34 L387.49 961.1 L388.64 961.83 L389.8 962.54 L390.98 963.23 L392.16 963.9 L393.36 964.54 L394.58 965.16 L395.8 965.75 L397.04 966.32 L398.28 966.86 L399.54 967.38 L400.81 967.88 L402.09 968.36 L403.37 968.81 L404.67 969.24 L405.98 969.65 L407.3 970.04 L408.62 970.41 L409.96 970.76 L411.3 971.09 L412.65 971.4 L414.01 971.69 L415.37 971.97 L416.74 972.23 L418.12 972.47 L419.51 972.7 L420.9 972.92 L422.3 973.11 L423.71 973.3 L425.12 973.47 L426.54 973.63 L427.96 973.77 L429.38 973.91 L430.81 974.03 L432.25 974.14 L433.69 974.25 L435.13 974.34 L436.58 974.42 L438.03 974.5 L439.48 974.56 L440.93 974.62 L442.39 974.67 L443.85 974.72 L445.31 974.76 L446.78 974.8 L448.24 974.83 L449.71 974.85 L451.17 974.87 L452.64 974.89 L454.11 974.91 L455.57 974.93 L457.04 974.94 L458.51 974.95 L459.97 974.96 L461.44 974.98 L462.9 974.99 L464.36 975 L465.82 975.02 L467.28 975.04 L468.74 975.05 L470.19 975.07 L471.65 975.1 L473.1 975.12 L474.55 975.14 L476 975.17 L477.45 975.19 L478.89 975.22 L480.34 975.25 L481.78 975.28 L483.22 975.31 L484.66 975.34 L486.1 975.37 L487.54 975.4 L488.98 975.44 L490.41 975.47 L491.85 975.51 L493.28 975.55 L494.71 975.59 L496.14 975.63 L497.57 975.67 L499 975.71 L500.43 975.75 L501.86 975.79 L503.28 975.84 L504.7 975.88 L506.13 975.93 L507.55 975.97 L508.97 976.02 L510.39 976.07 L511.81 976.12 L513.23 976.16 L514.65 976.21 L516.06 976.26 L517.48 976.31 L518.89 976.37 L520.31 976.42 L521.72 976.47 L523.13 976.52 L524.54 976.58 L525.95 976.63 L527.36 976.69 L528.77 976.74 L530.18 976.8 L531.59 976.85 L533 976.91 L534.41 976.96 L535.81 977.02 L537.22 977.08 L538.62 977.13 L540.03 977.19 L541.43 977.25 L542.84 977.31 L544.24 977.37 L545.64 977.43 L547.05 977.48 L548.45 977.54 L549.85 977.6 L551.25 977.66 L552.65 977.72 L554.06 977.78 L555.46 977.84 L556.86 977.9 L558.26 977.96 L559.66 978.02 L561.06 978.08 L562.46 978.13 L563.86 978.19 L565.26 978.25 L566.66 978.31 L568.05 978.37 L569.45 978.43 L570.85 978.49 L572.25 978.54 L573.65 978.6 L575.05 978.66 L576.45 978.72 L577.85 978.77 L579.25 978.83 L580.65 978.89 L582.05 978.94 L583.45 979 L584.85 979.05 L586.25 979.11 L587.65 979.16 L589.05 979.22 L590.45 979.27 L591.86 979.32 L593.26 979.38 L594.66 979.43 L596.06 979.48 L597.47 979.53 L598.87 979.58 L600.27 979.63 L601.68 979.68 L603.08 979.73 L604.49 979.77 L605.89 979.82 L607.3 979.87 L608.71 979.91 L610.11 979.96 L611.52 980 L612.93 980.04 L614.34 980.09 L615.75 980.13 L617.16 980.17 L618.57 980.21 L619.98 980.25 L621.4 980.28 L622.81 980.32 L624.22 980.36 L625.64 980.39 L627.06 980.42 L628.47 980.46 L629.89 980.49 L631.31 980.52 L632.73 980.55 L634.15 980.58 L635.57 980.6 L637 980.63 L638.42 980.65 L639.84 980.68 L641.27 980.7 L642.7 980.72 L644.12 980.74 L645.55 980.76 L646.98 980.77 L648.42 980.79 L649.85 980.8 L651.28 980.82 L652.72 980.83 L654.15 980.84 L655.59 980.85 L657.03 980.85 L658.47 980.86 L659.91 980.86 L661.36 980.87 L662.8 980.87 L664.25 980.87 L665.69 980.87 L667.14 980.86 L668.59 980.86 L670.04 980.85 L671.5 980.84 L672.95 980.83 L674.41 980.82 L675.87 980.81 L677.33 980.79 L678.79 980.77" fill="none" stroke="#000" stroke-width="4.5" stroke-linejoin="round" stroke-linecap="round"/>
<circle cx="213.7" cy="970" r="6" fill="#f58a1e"/>
<circle cx="241" cy="909.7" r="6" fill="#f58a1e"/>
<circle cx="315.4" cy="785.8" r="6" fill="#f58a1e"/>
<circle cx="334.4" cy="834" r="6" fill="#f58a1e"/>
<circle cx="335.9" cy="842.6" r="6" fill="#f58a1e"/>
<circle cx="210.5" cy="988.5" r="6" fill="#0000f0"/>
<circle cx="220.7" cy="984.7" r="6" fill="#0000f0"/>
<circle cx="228.7" cy="980" r="6" fill="#0000f0"/>
<circle cx="232.7" cy="962.7" r="6" fill="#0000f0"/>
<circle cx="241.3" cy="937.3" r="6" fill="#0000f0"/>
<circle cx="249.3" cy="903.3" r="6" fill="#0000f0"/>
<circle cx="257" cy="874" r="6" fill="#0000f0"/>
<circle cx="269" cy="824" r="6" fill="#0000f0"/>
<circle cx="278" cy="802" r="6" fill="#0000f0"/>
<circle cx="301" cy="721.7" r="6" fill="#0000f0"/>
<circle cx="322.2" cy="806" r="6" fill="#0000f0"/>
<circle cx="338" cy="893.8" r="6" fill="#0000f0"/>
<circle cx="377.3" cy="957.3" r="6" fill="#0000f0"/>
<circle cx="390" cy="964" r="6" fill="#0000f0"/>
<circle cx="236" cy="968" r="6" fill="#14cc14"/>
<circle cx="254" cy="942" r="6" fill="#14cc14"/>
<circle cx="269.3" cy="920.3" r="6" fill="#14cc14"/>
<circle cx="324.4" cy="774" r="6" fill="#fc3a4c"/>
<circle cx="346.5" cy="891" r="6" fill="#fc3a4c"/>
<circle cx="367.3" cy="933.3" r="6" fill="#fc3a4c"/>
<circle cx="391.3" cy="952" r="6" fill="#fc3a4c"/>
<circle cx="418.7" cy="961.3" r="6" fill="#fc3a4c"/>
<circle cx="440.7" cy="960" r="6" fill="#fc3a4c"/>
<circle cx="462" cy="968" r="6" fill="#fc3a4c"/>
<circle cx="484.7" cy="976.7" r="6" fill="#fc3a4c"/>
<circle cx="503.5" cy="977.5" r="6" fill="#fc3a4c"/>
<circle cx="542" cy="976.4" r="6" fill="#fc3a4c"/>
<circle cx="576.5" cy="977.3" r="6" fill="#fc3a4c"/>
<circle cx="611" cy="981" r="6" fill="#fc3a4c"/>
<circle cx="644.7" cy="980.1" r="6" fill="#fc3a4c"/>
<circle cx="678.3" cy="981" r="6" fill="#fc3a4c"/>
<circle cx="207.3" cy="987.3" r="5.8" fill="none" stroke="#000" stroke-width="3.5"/>
<circle cx="230" cy="980.7" r="5.8" fill="none" stroke="#000" stroke-width="3.5"/>
<circle cx="248" cy="952.7" r="5.8" fill="none" stroke="#000" stroke-width="3.5"/>
<circle cx="261.3" cy="857.8" r="5.8" fill="none" stroke="#000" stroke-width="3.5"/>
<circle cx="275" cy="778" r="5.8" fill="none" stroke="#000" stroke-width="3.5"/>
<circle cx="280.5" cy="764" r="5.8" fill="none" stroke="#000" stroke-width="3.5"/>
<circle cx="290" cy="737" r="5.8" fill="none" stroke="#000" stroke-width="3.5"/>
<circle cx="301" cy="679" r="5.8" fill="none" stroke="#000" stroke-width="3.5"/>
<circle cx="304.5" cy="696.5" r="5.8" fill="none" stroke="#000" stroke-width="3.5"/>
<circle cx="318.9" cy="728.5" r="5.8" fill="none" stroke="#000" stroke-width="3.5"/>
<circle cx="314" cy="748.5" r="5.8" fill="none" stroke="#000" stroke-width="3.5"/>
<circle cx="329.8" cy="797" r="5.8" fill="none" stroke="#000" stroke-width="3.5"/>
<circle cx="334.4" cy="833.2" r="5.8" fill="none" stroke="#000" stroke-width="3.5"/>
<circle cx="338.4" cy="860.1" r="5.8" fill="none" stroke="#000" stroke-width="3.5"/>
<circle cx="350.5" cy="902" r="5.8" fill="none" stroke="#000" stroke-width="3.5"/>
<circle cx="346.5" cy="910.7" r="5.8" fill="none" stroke="#000" stroke-width="3.5"/>
<circle cx="362" cy="942.7" r="5.8" fill="none" stroke="#000" stroke-width="3.5"/>
<circle cx="374" cy="947.3" r="5.8" fill="none" stroke="#000" stroke-width="3.5"/>
<circle cx="399.3" cy="969.3" r="5.8" fill="none" stroke="#000" stroke-width="3.5"/>
<circle cx="416.7" cy="976" r="5.8" fill="none" stroke="#000" stroke-width="3.5"/>
<circle cx="429.3" cy="967.3" r="5.8" fill="none" stroke="#000" stroke-width="3.5"/>
<circle cx="445.3" cy="969.3" r="5.8" fill="none" stroke="#000" stroke-width="3.5"/>
<circle cx="464.7" cy="976" r="5.8" fill="none" stroke="#000" stroke-width="3.5"/>
<circle cx="484.7" cy="976.7" r="5.8" fill="none" stroke="#000" stroke-width="3.5"/>
<circle cx="503.5" cy="977.5" r="5.8" fill="none" stroke="#000" stroke-width="3.5"/>
<circle cx="852.3" cy="631" r="5.6" fill="none" stroke="#000" stroke-width="3.7"/>
<text x="897" y="642.8" font-size="31.6" fill="#1c1c1c" stroke="#1c1c1c" stroke-width="0.35" textLength="196.75" lengthAdjust="spacingAndGlyphs" xml:space="preserve">Tarkanyi et al.</text>
<circle cx="852.3" cy="683.4" r="6" fill="#fc3a4c"/>
<text x="894.91" y="695.2" font-size="31.6" fill="#1c1c1c" stroke="#1c1c1c" stroke-width="0.35" textLength="181.7" lengthAdjust="spacingAndGlyphs" xml:space="preserve">Marten et al.</text>
<circle cx="852.3" cy="735.8" r="6" fill="#14cc14"/>
<text x="895.98" y="747.6" font-size="31.6" fill="#1c1c1c" stroke="#1c1c1c" stroke-width="0.35" textLength="184.5" lengthAdjust="spacingAndGlyphs" xml:space="preserve">Skakun et al.</text>
<circle cx="852.3" cy="788.2" r="6" fill="#0000f0"/>
<text x="895.98" y="800" font-size="31.6" fill="#1c1c1c" stroke="#1c1c1c" stroke-width="0.35" textLength="184.5" lengthAdjust="spacingAndGlyphs" xml:space="preserve">Skakun et al.</text>
<circle cx="852.3" cy="840.6" r="6" fill="#f58a1e"/>
<text x="895.96" y="852.4" font-size="31.6" fill="#1c1c1c" stroke="#1c1c1c" stroke-width="0.35" textLength="172.91" lengthAdjust="spacingAndGlyphs" xml:space="preserve">Otozai et al.</text>
<line x1="831.2" y1="929.2" x2="872.3" y2="929.2" stroke="#111" stroke-width="4" stroke-linecap="butt"/>
<text x="894.99" y="904" font-size="31.6" fill="#1c1c1c" stroke="#1c1c1c" stroke-width="0.35" textLength="507.97" lengthAdjust="spacingAndGlyphs" xml:space="preserve">Recommended Nuclear Data for the</text>
<text x="894.98" y="940.6" font-size="31.6" fill="#1c1c1c" stroke="#1c1c1c" stroke-width="0.35" textLength="496.88" lengthAdjust="spacingAndGlyphs" xml:space="preserve">Production of Selected Therapeutic</text>
<text x="895.01" y="977.6" font-size="31.6" fill="#1c1c1c" stroke="#1c1c1c" stroke-width="0.35" textLength="336.54" lengthAdjust="spacingAndGlyphs" xml:space="preserve">Radionuclides database</text>
<line x1="172.6" y1="1125.9" x2="172.6" y2="1143" stroke="#111111" stroke-width="3.6" stroke-linecap="butt"/>
<line x1="171.4" y1="1143" x2="171.4" y2="1225" stroke="#111111" stroke-width="1.6" stroke-linecap="butt"/>
<line x1="172.6" y1="1225" x2="172.6" y2="1549.4" stroke="#111111" stroke-width="3.6" stroke-linecap="butt"/>
<line x1="156.1" y1="1533.4" x2="786" y2="1533.4" stroke="#111111" stroke-width="3.6" stroke-linecap="butt"/>
<line x1="156.1" y1="1398.1" x2="172.6" y2="1398.1" stroke="#111111" stroke-width="3.6" stroke-linecap="butt"/>
<line x1="156.1" y1="1262.8" x2="172.6" y2="1262.8" stroke="#111111" stroke-width="3.6" stroke-linecap="butt"/>
<line x1="156.1" y1="1127.5" x2="172.6" y2="1127.5" stroke="#111111" stroke-width="3.6" stroke-linecap="butt"/>
<line x1="325.5" y1="1533.4" x2="325.5" y2="1549.4" stroke="#111111" stroke-width="3.6" stroke-linecap="butt"/>
<line x1="478.4" y1="1533.4" x2="478.4" y2="1549.4" stroke="#111111" stroke-width="3.6" stroke-linecap="butt"/>
<line x1="631.3" y1="1533.4" x2="631.3" y2="1549.4" stroke="#111111" stroke-width="3.6" stroke-linecap="butt"/>
<line x1="784.2" y1="1533.4" x2="784.2" y2="1549.4" stroke="#111111" stroke-width="3.6" stroke-linecap="butt"/>
<text x="149.8" y="1544.2" font-size="30.5" font-weight="bold" text-anchor="end" fill="#111111">0</text>
<text x="149.8" y="1408.9" font-size="30.5" font-weight="bold" text-anchor="end" fill="#111111">500</text>
<text x="149.8" y="1273.6" font-size="30.5" font-weight="bold" text-anchor="end" fill="#111111">1000</text>
<text x="149.8" y="1138.3" font-size="30.5" font-weight="bold" text-anchor="end" fill="#111111">1500</text>
<text x="172.6" y="1585.2" font-size="30.5" font-weight="bold" text-anchor="middle" fill="#111111">0</text>
<text x="325.5" y="1585.2" font-size="30.5" font-weight="bold" text-anchor="middle" fill="#111111">10</text>
<text x="478.4" y="1585.2" font-size="30.5" font-weight="bold" text-anchor="middle" fill="#111111">20</text>
<text x="631.3" y="1585.2" font-size="30.5" font-weight="bold" text-anchor="middle" fill="#111111">30</text>
<text x="784.2" y="1585.2" font-size="30.5" font-weight="bold" text-anchor="middle" fill="#111111">40</text>
<text x="294.6" y="1635.6" font-size="33.5" font-weight="bold" fill="#111111" textLength="368" lengthAdjust="spacingAndGlyphs" xml:space="preserve">Incident  Energy (MeV)</text>
<text transform="translate(65 1486.4) rotate(-90)" x="0" y="0" font-size="33" font-weight="bold" fill="#111111" textLength="314.2" lengthAdjust="spacingAndGlyphs" xml:space="preserve">Cross  Section (mb)</text>
<text x="202.8" y="1196.3" font-size="39" font-weight="bold" text-anchor="start" fill="#000" textLength="42.5" lengthAdjust="spacingAndGlyphs">(c)</text>
<path d="M350.42 1529.64 L351.1 1528.12 L351.77 1526.59 L352.44 1525.07 L353.1 1523.54 L353.75 1522.01 L354.4 1520.48 L355.04 1518.95 L355.67 1517.42 L356.3 1515.89 L356.92 1514.35 L357.54 1512.82 L358.15 1511.28 L358.75 1509.74 L359.35 1508.2 L359.94 1506.66 L360.53 1505.12 L361.11 1503.57 L361.69 1502.03 L362.26 1500.48 L362.83 1498.94 L363.39 1497.39 L363.95 1495.84 L364.5 1494.29 L365.05 1492.74 L365.59 1491.19 L366.13 1489.63 L366.66 1488.08 L367.19 1486.52 L367.72 1484.97 L368.24 1483.41 L368.76 1481.85 L369.27 1480.3 L369.78 1478.74 L370.29 1477.18 L370.79 1475.62 L371.29 1474.05 L371.78 1472.49 L372.28 1470.93 L372.77 1469.37 L373.25 1467.8 L373.74 1466.24 L374.22 1464.67 L374.7 1463.1 L375.17 1461.54 L375.65 1459.97 L376.12 1458.4 L376.58 1456.83 L377.05 1455.26 L377.51 1453.7 L377.98 1452.13 L378.44 1450.56 L378.89 1448.98 L379.35 1447.41 L379.8 1445.84 L380.26 1444.27 L380.71 1442.7 L381.16 1441.13 L381.61 1439.55 L382.06 1437.98 L382.5 1436.41 L382.95 1434.83 L383.39 1433.26 L383.84 1431.69 L384.28 1430.11 L384.73 1428.54 L385.17 1426.96 L385.61 1425.39 L386.06 1423.82 L386.5 1422.24 L386.94 1420.67 L387.38 1419.09 L387.83 1417.52 L388.27 1415.94 L388.71 1414.37 L389.16 1412.79 L389.6 1411.22 L390.04 1409.65 L390.49 1408.07 L390.94 1406.5 L391.39 1404.92 L391.83 1403.35 L392.28 1401.78 L392.74 1400.2 L393.19 1398.63 L393.64 1397.06 L394.1 1395.49 L394.56 1393.92 L395.02 1392.34 L395.48 1390.77 L395.94 1389.2 L396.41 1387.63 L396.87 1386.06 L397.34 1384.49 L397.82 1382.92 L398.29 1381.36 L398.77 1379.79 L399.25 1378.22 L399.73 1376.65 L400.22 1375.09 L400.71 1373.52 L401.2 1371.96 L401.7 1370.39 L402.19 1368.83 L402.7 1367.27 L403.2 1365.7 L403.71 1364.14 L404.22 1362.58 L404.74 1361.02 L405.26 1359.46 L405.79 1357.91 L406.32 1356.35 L406.85 1354.79 L407.39 1353.24 L407.93 1351.68 L408.48 1350.13 L409.03 1348.57 L409.58 1347.02 L410.14 1345.47 L410.71 1343.92 L411.28 1342.37 L411.86 1340.82 L412.44 1339.28 L413.02 1337.73 L413.61 1336.19 L414.21 1334.64 L414.82 1333.1 L415.42 1331.56 L416.04 1330.02 L416.66 1328.48 L417.29 1326.94 L417.92 1325.41 L418.56 1323.87 L419.2 1322.34 L419.86 1320.81 L420.51 1319.28 L421.18 1317.75 L421.85 1316.22 L422.54 1314.7 L423.23 1313.18 L423.93 1311.67 L424.65 1310.17 L425.37 1308.67 L426.11 1307.18 L426.87 1305.7 L427.64 1304.24 L428.43 1302.78 L429.23 1301.34 L430.06 1299.91 L430.9 1298.5 L431.76 1297.1 L432.64 1295.72 L433.55 1294.36 L434.48 1293.02 L435.43 1291.7 L436.4 1290.4 L437.41 1289.12 L438.44 1287.86 L439.49 1286.63 L440.58 1285.42 L441.69 1284.24 L442.84 1283.09 L444.01 1281.96 L445.22 1280.87 L446.46 1279.8 L447.74 1278.77 L449.05 1277.77 L450.39 1276.8 L451.77 1275.86 L453.19 1274.96 L454.64 1274.1 L456.12 1273.28 L457.62 1272.5 L459.15 1271.76 L460.69 1271.06 L462.26 1270.41 L463.84 1269.81 L465.44 1269.25 L467.04 1268.75 L468.66 1268.29 L470.27 1267.89 L471.9 1267.55 L473.52 1267.26 L475.14 1267.02 L476.75 1266.85 L478.36 1266.74 L479.95 1266.68 L481.54 1266.7 L483.11 1266.77 L484.66 1266.91 L486.2 1267.11 L487.73 1267.37 L489.24 1267.69 L490.73 1268.06 L492.22 1268.48 L493.69 1268.96 L495.14 1269.49 L496.58 1270.07 L498 1270.69 L499.41 1271.36 L500.81 1272.08 L502.19 1272.84 L503.55 1273.64 L504.9 1274.48 L506.24 1275.36 L507.56 1276.28 L508.86 1277.23 L510.15 1278.21 L511.43 1279.23 L512.69 1280.27 L513.93 1281.35 L515.16 1282.45 L516.38 1283.58 L517.58 1284.73 L518.76 1285.91 L519.93 1287.1 L521.08 1288.31 L522.22 1289.55 L523.34 1290.79 L524.44 1292.06 L525.53 1293.33 L526.6 1294.62 L527.66 1295.91 L528.7 1297.22 L529.73 1298.53 L530.74 1299.85 L531.74 1301.18 L532.72 1302.52 L533.69 1303.86 L534.65 1305.21 L535.59 1306.57 L536.51 1307.94 L537.43 1309.32 L538.33 1310.7 L539.22 1312.08 L540.1 1313.48 L540.97 1314.88 L541.83 1316.28 L542.67 1317.7 L543.51 1319.11 L544.33 1320.54 L545.15 1321.96 L545.95 1323.4 L546.75 1324.84 L547.54 1326.28 L548.32 1327.73 L549.09 1329.18 L549.85 1330.64 L550.6 1332.1 L551.35 1333.56 L552.09 1335.03 L552.83 1336.5 L553.56 1337.98 L554.28 1339.46 L555 1340.94 L555.71 1342.42 L556.41 1343.91 L557.12 1345.4 L557.81 1346.89 L558.51 1348.38 L559.2 1349.88 L559.89 1351.37 L560.57 1352.87 L561.25 1354.37 L561.93 1355.87 L562.61 1357.37 L563.28 1358.88 L563.96 1360.38 L564.63 1361.88 L565.3 1363.39 L565.98 1364.89 L566.65 1366.39 L567.32 1367.9 L567.99 1369.4 L568.67 1370.9 L569.34 1372.4 L570.02 1373.9 L570.7 1375.4 L571.38 1376.9 L572.06 1378.39 L572.75 1379.89 L573.44 1381.38 L574.13 1382.87 L574.83 1384.35 L575.53 1385.84 L576.24 1387.32 L576.95 1388.8 L577.67 1390.28 L578.39 1391.75 L579.12 1393.22 L579.85 1394.68 L580.59 1396.15 L581.34 1397.6 L582.1 1399.06 L582.86 1400.51 L583.63 1401.95 L584.4 1403.39 L585.19 1404.83 L585.98 1406.26 L586.77 1407.69 L587.58 1409.11 L588.39 1410.53 L589.21 1411.94 L590.04 1413.35 L590.88 1414.75 L591.72 1416.15 L592.58 1417.54 L593.44 1418.93 L594.3 1420.31 L595.18 1421.69 L596.07 1423.06 L596.96 1424.43 L597.86 1425.79 L598.77 1427.14 L599.69 1428.49 L600.61 1429.84 L601.55 1431.17 L602.49 1432.5 L603.44 1433.83 L604.41 1435.15 L605.38 1436.46 L606.35 1437.77 L607.34 1439.07 L608.34 1440.36 L609.35 1441.65 L610.36 1442.93 L611.39 1444.2 L612.42 1445.47 L613.46 1446.73 L614.52 1447.98 L615.58 1449.23 L616.65 1450.47 L617.73 1451.7 L618.82 1452.92 L619.92 1454.14 L621.04 1455.35 L622.16 1456.55 L623.29 1457.75 L624.43 1458.93 L625.58 1460.11 L626.74 1461.28 L627.91 1462.45 L629.09 1463.6 L630.29 1464.74 L631.49 1465.88 L632.7 1467 L633.92 1468.12 L635.15 1469.22 L636.39 1470.32 L637.64 1471.4 L638.9 1472.47 L640.17 1473.53 L641.45 1474.57 L642.74 1475.61 L644.04 1476.63 L645.35 1477.63 L646.67 1478.63 L647.99 1479.6 L649.33 1480.57 L650.68 1481.52 L652.03 1482.45 L653.4 1483.37 L654.77 1484.27 L656.15 1485.15 L657.54 1486.02 L658.94 1486.87 L660.35 1487.7 L661.77 1488.52 L663.2 1489.31 L664.64 1490.09 L666.08 1490.85 L667.54 1491.59 L669 1492.3 L670.47 1493 L671.95 1493.68 L673.44 1494.34 L674.94 1494.97 L676.45 1495.59 L677.96 1496.18 L679.48 1496.75 L681.02 1497.29 L682.56 1497.82 L684.1 1498.32 L685.66 1498.79 L687.23 1499.24 L688.8 1499.67 L690.38 1500.07 L691.97 1500.45 L693.57 1500.8 L695.17 1501.12 L696.79 1501.42 L698.41 1501.69 L700.04 1501.94 L701.67 1502.15 L703.32 1502.34 L704.97 1502.5 L706.63 1502.63 L708.3 1502.73 L709.98 1502.8 L711.66 1502.85" fill="none" stroke="#000" stroke-width="5.2" stroke-linejoin="round" stroke-linecap="butt"/>
<circle cx="316.6" cy="1532.2" r="6" fill="#0000f0"/>
<circle cx="373.3" cy="1442.3" r="6" fill="#0000f0"/>
<circle cx="394.5" cy="1401.5" r="6" fill="#0000f0"/>
<circle cx="397" cy="1382" r="6" fill="#0000f0"/>
<circle cx="437.5" cy="1306" r="6" fill="#0000f0"/>
<circle cx="489.5" cy="1298.5" r="6" fill="#0000f0"/>
<circle cx="521" cy="1263" r="6" fill="#0000f0"/>
<circle cx="568.7" cy="1365" r="6" fill="#0000f0"/>
<circle cx="611" cy="1440.5" r="6" fill="#0000f0"/>
<circle cx="653.5" cy="1490.7" r="6" fill="#0000f0"/>
<circle cx="699.3" cy="1502.4" r="6" fill="#0000f0"/>
<circle cx="743.6" cy="1508.8" r="6" fill="#0000f0"/>
<circle cx="405" cy="1372" r="6" fill="#14cc14"/>
<circle cx="374.7" cy="1479.3" r="6" fill="#14cc14"/>
<circle cx="433" cy="1311" r="6" fill="#14cc14"/>
<circle cx="451.5" cy="1288" r="6" fill="#14cc14"/>
<circle cx="473.5" cy="1270" r="6" fill="#14cc14"/>
<circle cx="492" cy="1244" r="6" fill="#14cc14"/>
<circle cx="400" cy="1333.3" r="6" fill="#fc3a4c"/>
<circle cx="408" cy="1265.6" r="6" fill="#fc3a4c"/>
<circle cx="421.6" cy="1272.4" r="6" fill="#fc3a4c"/>
<circle cx="441" cy="1265.5" r="6" fill="#fc3a4c"/>
<circle cx="442.5" cy="1278" r="6" fill="#fc3a4c"/>
<circle cx="459.5" cy="1282.5" r="6" fill="#fc3a4c"/>
<circle cx="475" cy="1280" r="6" fill="#fc3a4c"/>
<circle cx="467" cy="1293" r="6" fill="#fc3a4c"/>
<circle cx="490.5" cy="1255.5" r="6" fill="#fc3a4c"/>
<circle cx="496.5" cy="1295" r="6" fill="#fc3a4c"/>
<circle cx="513" cy="1286.5" r="6" fill="#fc3a4c"/>
<circle cx="535" cy="1289" r="6" fill="#fc3a4c"/>
<circle cx="419" cy="1286" r="6" fill="#fc3a4c"/>
<circle cx="428" cy="1255" r="6" fill="#fc3a4c"/>
<circle cx="550" cy="1337.5" r="6" fill="#fc3a4c"/>
<circle cx="561.5" cy="1370" r="6" fill="#fc3a4c"/>
<circle cx="576" cy="1394" r="6" fill="#fc3a4c"/>
<circle cx="589" cy="1411" r="6" fill="#fc3a4c"/>
<circle cx="602" cy="1435" r="6" fill="#fc3a4c"/>
<circle cx="606.5" cy="1451.5" r="6" fill="#fc3a4c"/>
<circle cx="631" cy="1463.5" r="6" fill="#fc3a4c"/>
<circle cx="380" cy="1403" r="6" fill="#fc3a4c"/>
<circle cx="377" cy="1414.5" r="6" fill="#fc3a4c"/>
<circle cx="393.5" cy="1413" r="6" fill="#fc3a4c"/>
<circle cx="359.3" cy="1501.3" r="6" fill="#fc3a4c"/>
<circle cx="476.5" cy="1215" r="6" fill="none" stroke="#000" stroke-width="3.9"/>
<circle cx="461" cy="1230" r="6" fill="none" stroke="#000" stroke-width="3.9"/>
<circle cx="492" cy="1231" r="6" fill="none" stroke="#000" stroke-width="3.9"/>
<circle cx="507" cy="1232.5" r="6" fill="none" stroke="#000" stroke-width="3.9"/>
<circle cx="479.5" cy="1242.5" r="6" fill="none" stroke="#000" stroke-width="3.9"/>
<circle cx="444.5" cy="1246" r="6" fill="none" stroke="#000" stroke-width="3.9"/>
<circle cx="409.3" cy="1249.3" r="6" fill="none" stroke="#000" stroke-width="3.9"/>
<circle cx="428" cy="1255.8" r="6" fill="none" stroke="#000" stroke-width="3.9"/>
<circle cx="450.5" cy="1258" r="6" fill="none" stroke="#000" stroke-width="3.9"/>
<circle cx="505.5" cy="1258.8" r="6" fill="none" stroke="#000" stroke-width="3.9"/>
<circle cx="534.5" cy="1254.5" r="6" fill="none" stroke="#000" stroke-width="3.9"/>
<circle cx="391" cy="1279.8" r="6" fill="none" stroke="#000" stroke-width="3.9"/>
<circle cx="417.2" cy="1291.8" r="6" fill="none" stroke="#000" stroke-width="3.9"/>
<circle cx="371.6" cy="1294.8" r="6" fill="none" stroke="#000" stroke-width="3.9"/>
<circle cx="518.5" cy="1294.8" r="6" fill="none" stroke="#000" stroke-width="3.9"/>
<circle cx="533" cy="1330" r="6" fill="none" stroke="#000" stroke-width="3.9"/>
<circle cx="546" cy="1353" r="6" fill="none" stroke="#000" stroke-width="3.9"/>
<circle cx="558.5" cy="1378.8" r="6" fill="none" stroke="#000" stroke-width="3.9"/>
<circle cx="572.5" cy="1408" r="6" fill="none" stroke="#000" stroke-width="3.9"/>
<circle cx="585" cy="1433" r="6" fill="none" stroke="#000" stroke-width="3.9"/>
<circle cx="595" cy="1445" r="6" fill="none" stroke="#000" stroke-width="3.9"/>
<circle cx="606.5" cy="1451.5" r="6" fill="none" stroke="#000" stroke-width="3.9"/>
<circle cx="619" cy="1462.5" r="6" fill="none" stroke="#000" stroke-width="3.9"/>
<circle cx="632" cy="1464" r="6" fill="none" stroke="#000" stroke-width="3.9"/>
<circle cx="641.7" cy="1474.1" r="6" fill="none" stroke="#000" stroke-width="3.9"/>
<circle cx="652.4" cy="1480" r="6" fill="none" stroke="#000" stroke-width="3.9"/>
<circle cx="663" cy="1476.8" r="6" fill="none" stroke="#000" stroke-width="3.9"/>
<circle cx="672.7" cy="1485.9" r="6" fill="none" stroke="#000" stroke-width="3.9"/>
<circle cx="682.8" cy="1486.4" r="6" fill="none" stroke="#000" stroke-width="3.9"/>
<circle cx="693.5" cy="1490.1" r="6" fill="none" stroke="#000" stroke-width="3.9"/>
<circle cx="703.6" cy="1490.1" r="6" fill="none" stroke="#000" stroke-width="3.9"/>
<circle cx="714.3" cy="1486.9" r="6" fill="none" stroke="#000" stroke-width="3.9"/>
<circle cx="350" cy="1349" r="6" fill="none" stroke="#000" stroke-width="3.9"/>
<circle cx="339" cy="1431" r="6" fill="none" stroke="#000" stroke-width="3.9"/>
<circle cx="327" cy="1508.3" r="6" fill="none" stroke="#000" stroke-width="3.9"/>
<circle cx="380.5" cy="1392.5" r="6" fill="none" stroke="#000" stroke-width="3.9"/>
<circle cx="898.2" cy="1156.1" r="5.6" fill="none" stroke="#000" stroke-width="3.9"/>
<text x="942.98" y="1168.3" font-size="33.2" fill="#1c1c1c" stroke="#1c1c1c" stroke-width="0.35" textLength="237.46" lengthAdjust="spacingAndGlyphs" xml:space="preserve">Hermanne et al.</text>
<circle cx="898.2" cy="1210.9" r="6" fill="#fc3a4c"/>
<text x="944.98" y="1223.1" font-size="33.2" fill="#1c1c1c" stroke="#1c1c1c" stroke-width="0.35" textLength="208.11" lengthAdjust="spacingAndGlyphs" xml:space="preserve">Tarkanyi et al.</text>
<circle cx="898.2" cy="1265.7" r="6" fill="#14cc14"/>
<text x="943.98" y="1277.9" font-size="33.2" fill="#1c1c1c" stroke="#1c1c1c" stroke-width="0.35" textLength="194.13" lengthAdjust="spacingAndGlyphs" xml:space="preserve">Skakun et al.</text>
<circle cx="898.2" cy="1320.5" r="6" fill="#0000f0"/>
<text x="944.98" y="1332.7" font-size="33.2" fill="#1c1c1c" stroke="#1c1c1c" stroke-width="0.35" textLength="181.5" lengthAdjust="spacingAndGlyphs" xml:space="preserve">Otozai et al.</text>
<line x1="877.5" y1="1414.4" x2="919.5" y2="1414.4" stroke="#111" stroke-width="4.6" stroke-linecap="butt"/>
<text x="942.98" y="1388.3" font-size="33.2" fill="#1c1c1c" stroke="#1c1c1c" stroke-width="0.35" textLength="535.6" lengthAdjust="spacingAndGlyphs" xml:space="preserve">Recommended Nuclear Data for the</text>
<text x="942.96" y="1426.6" font-size="33.2" fill="#1c1c1c" stroke="#1c1c1c" stroke-width="0.35" textLength="525.17" lengthAdjust="spacingAndGlyphs" xml:space="preserve">Production of Selected Therapeutic</text>
<text x="942.99" y="1465.6" font-size="33.2" fill="#1c1c1c" stroke="#1c1c1c" stroke-width="0.35" textLength="355.58" lengthAdjust="spacingAndGlyphs" xml:space="preserve">Radionuclides database</text>
</svg></body></html>
